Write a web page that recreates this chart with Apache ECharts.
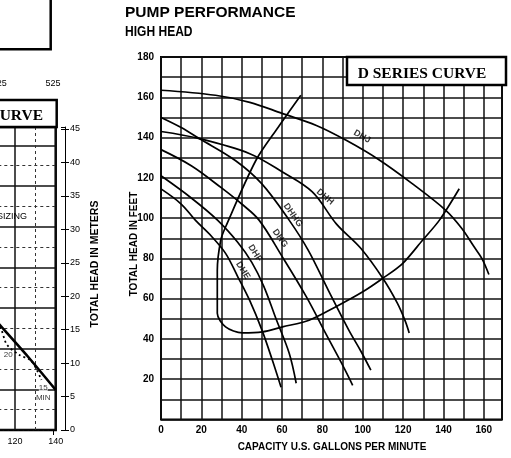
<!DOCTYPE html>
<html>
<head>
<meta charset="utf-8">
<script src="https://cdn.jsdelivr.net/npm/echarts@6/dist/echarts.min.js"></script>
<style>
  html, body { margin: 0; padding: 0; background: #fff; }
  #chart { width: 511px; height: 458px; }
</style>
</head>
<body>
<div id="chart"></div>
<script>
// main chart: capacity (gpm) vs total head (ft)
const dhj = [[0,163.5],[27,161],[44,157.5],[60,152],[77,146],[92,138.5],[108,129],[124,117.5],[141,104],[149,95],[155,86],[159,80],[162.5,72]];
const dhh = [[0,143],[19,139.5],[44,132],[60,123],[75,113],[87,97],[99,85],[110,70],[117,58],[121,49],[123,43]];
const dhhg = [[0,150],[10,145],[19,139.5],[37,128.5],[50,117],[63.5,99],[73,84],[83,64],[93,44.5],[99,34],[104,24.5]];
const dhg = [[0,134],[15,126],[30,115],[40,107],[48.6,99],[60,81],[72,61],[82,42],[90,27],[95,17]];
const dhf = [[0,121],[15,110],[28,99],[38,88],[45,78],[51,66],[57,50],[63.5,33],[67,18]];
const dhe = [[0,114.5],[10,107],[17,99],[25,91],[32,82.5],[38,71],[44,59],[50,44.5],[55,30],[59.5,16]];
const loop = [[69.3,161],[58,145],[47,128.6],[32,95.6],[29.6,89],[27.9,74],[27.9,52.7],[32,46],[40.3,43],[50.2,43.5],[60.2,46],[73.4,49.3],[86.7,56],[100,63.4],[109.8,70],[119.7,77.4],[129.6,89],[138,99],[147.8,114.6]];
const curveLabels = [
  ['DHJ', 99.6, 140.5, -30],
  ['DHH', 81.3, 110.5, -40],
  ['DHHG', 65.4, 101.5, -55],
  ['DHG', 59, 90, -55],
  ['DHF', 46.6, 82.6, -58],
  ['DHE', 40.6, 74, -58]
];

// left (cut-off) chart: gpm vs ft, meters on the right axis
const leftSolid = [[106,59],[112.6,51.6],[126,36.5],[140,19.7]];
const leftDotted = [[110,55],[113.4,49],[116,42],[122,37],[128,34],[133,24.6]];
const leftLabels = [['20',116.7,37.2],['15',133.9,20.8],['MIN',133.9,15.6]];
const litreTicks = [425, 525];

const chart = echarts.init(document.getElementById('chart'));
const font = 'Liberation Sans, Arial, sans-serif';

function curve(name, data, smooth) {
  return {
    name: name, type: 'line', data: data, smooth: smooth === undefined ? 0.35 : smooth,
    showSymbol: false, silent: true, z: 4,
    lineStyle: { color: '#000', width: 1.7 }
  };
}

chart.setOption({
  animation: false,
  backgroundColor: '#fff',
  grid: [
    { left: 161, right: 9, top: 57, bottom: 38.5, outerBoundsMode: 'none',
      show: true, borderColor: '#000', borderWidth: 2 },
    { left: -25.7, right: 455.3, top: 127, bottom: 28, outerBoundsMode: 'none',
      show: true, borderColor: '#000', borderWidth: 2.5 }
  ],
  xAxis: [
    {
      type: 'value', min: 0, max: 169, interval: 10, gridIndex: 0,
      axisLine: { show: false }, axisTick: { show: false },
      axisLabel: { formatter: v => (v % 20 === 0 ? v : ''), showMaxLabel: false, color: '#000',
        fontFamily: font, fontWeight: 'bold', fontSize: 10, margin: 6 },
      splitLine: { lineStyle: { color: '#111', width: 1.5 } }
    },
    {
      type: 'value', min: 100, max: 140, interval: 20, gridIndex: 1,
      axisLine: { show: false }, axisTick: { show: false },
      axisLabel: { color: '#000', fontFamily: font, fontSize: 9, margin: 7 },
      splitLine: { lineStyle: { color: '#111', width: 1.5 } },
      minorTick: { show: false, splitNumber: 2 },
      minorSplitLine: { show: true, lineStyle: { color: '#333', width: 1, type: [3, 3] } }
    },
    {
      type: 'value', min: 378.5, max: 529.9, gridIndex: 1, position: 'top', offset: 35.3,
      axisLine: { show: true, lineStyle: { color: '#000', width: 1, type: [3, 2] } },
      axisTick: { show: true, inside: true, length: 5, customValues: litreTicks, lineStyle: { color: '#000' } },
      axisLabel: { customValues: litreTicks, color: '#000', fontFamily: font, fontSize: 9, margin: 4 },
      splitLine: { show: false }
    }
  ],
  yAxis: [
    {
      type: 'value', min: 0, max: 180, interval: 10, gridIndex: 0,
      axisLine: { show: false }, axisTick: { show: false },
      axisLabel: { formatter: v => (v % 20 === 0 && v > 0 ? v : ''), color: '#000',
        fontFamily: font, fontWeight: 'bold', fontSize: 10, margin: 7 },
      splitLine: { lineStyle: { color: '#111', width: 1.5 } }
    },
    {
      type: 'value', min: 0, max: 149, interval: 20, gridIndex: 1,
      axisLine: { show: false }, axisTick: { show: false }, axisLabel: { show: false },
      splitLine: { lineStyle: { color: '#111', width: 1.5 } },
      minorTick: { show: false, splitNumber: 2 },
      minorSplitLine: { show: true, lineStyle: { color: '#333', width: 1, type: [3, 3] } }
    },
    {
      type: 'value', min: 0, max: 45.3, interval: 5, gridIndex: 1, position: 'right', offset: 9.3,
      axisLine: { show: true, lineStyle: { color: '#000', width: 1 } },
      axisTick: { show: true, length: 4, lineStyle: { color: '#000' } },
      axisLabel: { color: '#000', fontFamily: font, fontSize: 9, margin: 5 },
      splitLine: { show: false }
    },
    {
      type: 'value', min: 0, max: 45.3, interval: 5, gridIndex: 1, position: 'right', offset: 9.3,
      axisLine: { show: false },
      axisTick: { show: true, inside: true, length: 4, lineStyle: { color: '#000' } },
      axisLabel: { show: false }, splitLine: { show: false }
    }
  ],
  series: [
    curve('DHJ', dhj), curve('DHH', dhh), curve('DHHG', dhhg), curve('DHG', dhg),
    curve('DHF', dhf), curve('DHE', dhe), curve('loop', loop, 0.3),
    {
      type: 'scatter', symbolSize: 0, silent: true, z: 6,
      data: curveLabels.map(d => ({ value: [d[1], d[2]], name: d[0], label: { rotate: d[3] } })),
      label: { show: true, position: 'inside', formatter: p => p.name, color: '#000',
        fontFamily: font, fontWeight: 'bold', fontSize: 9 }
    },
    {
      type: 'line', xAxisIndex: 1, yAxisIndex: 1, data: leftSolid, smooth: 0.2,
      showSymbol: false, silent: true, lineStyle: { color: '#000', width: 2.6 }
    },
    {
      type: 'line', xAxisIndex: 1, yAxisIndex: 1, data: leftDotted, smooth: 0.3,
      showSymbol: false, silent: true, lineStyle: { color: '#000', width: 1.8, type: [2, 3] }
    },
    {
      type: 'scatter', xAxisIndex: 1, yAxisIndex: 1, symbolSize: 0, silent: true,
      data: leftLabels.map(d => ({ value: [d[1], d[2]], name: d[0] })),
      label: { show: true, position: 'inside', formatter: p => p.name, color: '#000',
        fontFamily: font, fontSize: 8, backgroundColor: '#fff' }
    }
  ],
  graphic: [
    { type: 'text', left: 125, top: 5, style: { text: 'PUMP PERFORMANCE', fill: '#000',
      font: 'bold 15.5px ' + font } },
    { type: 'text', x: 125, y: 25, scaleX: 0.86, style: { text: 'HIGH HEAD', fill: '#000',
      font: 'bold 14px ' + font } },
    { type: 'rect', shape: { x: 347, y: 57, width: 159, height: 28 }, z: 10,
      style: { fill: '#fff', stroke: '#000', lineWidth: 2.5 } },
    { type: 'text', x: 422, y: 74, z: 11, style: { text: 'D SERIES CURVE', fill: '#000',
      font: 'bold 15.5px Liberation Serif, Times New Roman, serif', align: 'center', verticalAlign: 'middle' } },
    { type: 'text', x: 134, y: 244, rotation: Math.PI / 2, style: { text: 'TOTAL HEAD IN FEET', fill: '#000',
      font: 'bold 10px ' + font, align: 'center', verticalAlign: 'middle' } },
    { type: 'text', x: 332, y: 447, style: { text: 'CAPACITY U.S. GALLONS PER MINUTE', fill: '#000',
      font: 'bold 10px ' + font, align: 'center', verticalAlign: 'middle' } },
    { type: 'text', x: 95, y: 264, rotation: Math.PI / 2, style: { text: 'TOTAL HEAD IN METERS', fill: '#000',
      font: 'bold 10.5px ' + font, align: 'center', verticalAlign: 'middle' } },
    { type: 'rect', shape: { x: -5, y: -5, width: 55.7, height: 54.3 },
      style: { fill: '#fff', stroke: '#000', lineWidth: 2.5 } },
    { type: 'rect', shape: { x: -5, y: 100, width: 61.7, height: 27 }, z: 10,
      style: { fill: '#fff', stroke: '#000', lineWidth: 2.5 } },
    { type: 'text', x: 43, y: 116, z: 11, style: { text: 'C SERIES CURVE', fill: '#000',
      font: 'bold 15.5px Liberation Serif, Times New Roman, serif', align: 'right', verticalAlign: 'middle' } },
    { type: 'text', x: 27, y: 217, z: 11, style: { text: 'SIZING', fill: '#000',
      font: '9px ' + font, align: 'right', verticalAlign: 'middle' } }
  ]
});
</script>
</body>
</html>
